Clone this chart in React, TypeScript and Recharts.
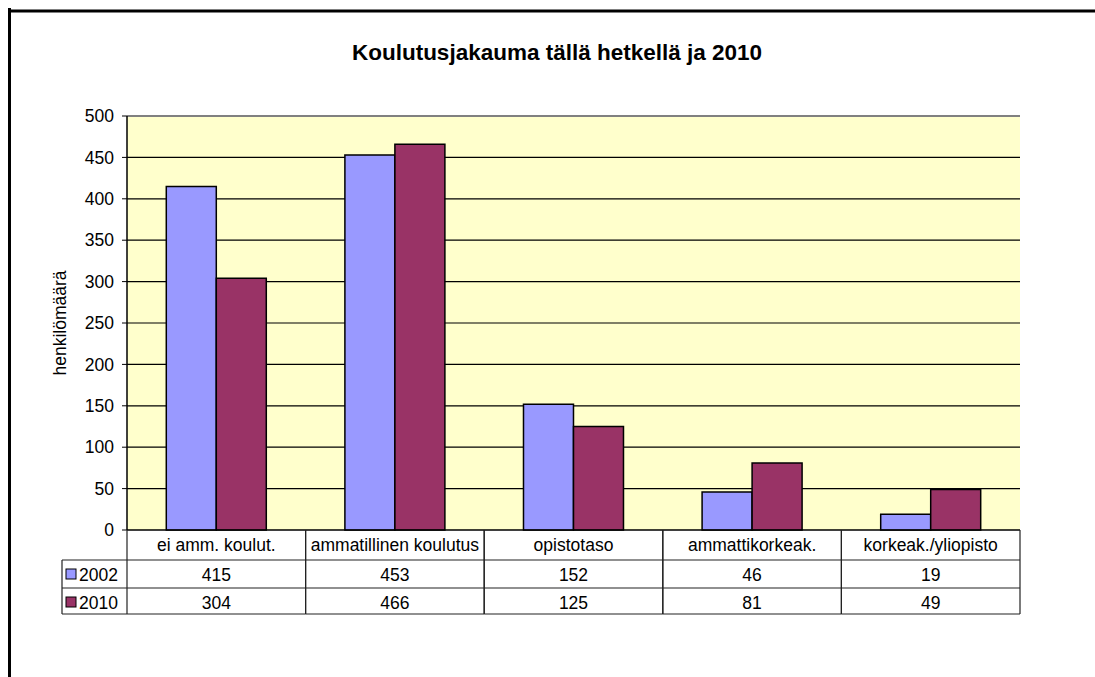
import React from 'react';
import { BarChart, Bar, XAxis, YAxis, CartesianGrid, ReferenceLine, Customized } from 'recharts';

const categories = ['ei amm. koulut.', 'ammatillinen koulutus', 'opistotaso', 'ammattikorkeak.', 'korkeak./yliopisto'];
const values2002 = [415, 453, 152, 46, 19];
const values2010 = [304, 466, 125, 81, 49];
const yTicks = [0, 50, 100, 150, 200, 250, 300, 350, 400, 450, 500];

const seriesNames = ['2002', '2010'];
const seriesColors = ['#9999FF', '#993366'];

const W = 1095;
const H = 677;
const PLOT_LEFT = 127;
const PLOT_RIGHT = 1020;
const PLOT_TOP = 116;
const PLOT_BOTTOM = 530;
const BAND = (PLOT_RIGHT - PLOT_LEFT) / categories.length;
const ROW1 = 560;
const ROW2 = 588;
const ROW3 = 614;
const LEGEND_LEFT = 62;
const FONT = 'Liberation Sans, Arial, sans-serif';
const LINE = '#222';
const FS = 17.5;

const chartData = categories.map((name, i) => ({
  name,
  v2002: values2002[i],
  v2010: values2010[i],
}));

// draws one column of the data table under the plot (and the legend column for the first one)
const TableTick = (props: any) => {
  const { x, y, payload } = props;
  const i = payload.index;
  const left = x - BAND / 2;
  const right = x + BAND / 2;
  const rows = [values2002[i], values2010[i]];
  return (
    <g fontFamily={FONT} fontSize={FS} fill="#000">
      <line x1={left} y1={y} x2={left} y2={ROW3} stroke={LINE} strokeWidth={1.2} />
      <line x1={right} y1={y} x2={right} y2={ROW3} stroke={LINE} strokeWidth={1.2} />
      <line x1={left} y1={ROW1} x2={right} y2={ROW1} stroke={LINE} strokeWidth={1.2} />
      <line x1={left} y1={ROW2} x2={right} y2={ROW2} stroke={LINE} strokeWidth={1.2} />
      <line x1={left} y1={ROW3} x2={right} y2={ROW3} stroke={LINE} strokeWidth={1.2} />
      <text x={x} y={y + 21} textAnchor="middle">{payload.value}</text>
      {rows.map((v, r) => (
        <text key={r} x={x} y={(r === 0 ? ROW1 : ROW2) + 21} textAnchor="middle">{v}</text>
      ))}
      {i === 0 && (
        <g>
          <line x1={LEGEND_LEFT} y1={ROW1} x2={left} y2={ROW1} stroke={LINE} strokeWidth={1.2} />
          <line x1={LEGEND_LEFT} y1={ROW2} x2={left} y2={ROW2} stroke={LINE} strokeWidth={1.2} />
          <line x1={LEGEND_LEFT} y1={ROW3} x2={left} y2={ROW3} stroke={LINE} strokeWidth={1.2} />
          <line x1={LEGEND_LEFT} y1={ROW1} x2={LEGEND_LEFT} y2={ROW3} stroke={LINE} strokeWidth={1.2} />
          {seriesNames.map((s, r) => {
            const top = r === 0 ? ROW1 : ROW2;
            return (
              <g key={s}>
                <rect x={LEGEND_LEFT + 4} y={top + 9} width={10} height={10} fill={seriesColors[r]} stroke="#000" strokeWidth={1} />
                <text x={LEGEND_LEFT + 17} y={top + 21}>{s}</text>
              </g>
            );
          })}
        </g>
      )}
    </g>
  );
};

const Frame = () => (
  <g>
    <line x1={9.5} y1={H + 5} x2={9.5} y2={9.5} stroke="#000" strokeWidth={3} strokeLinecap="square" />
    <line x1={9.5} y1={11} x2={W + 20} y2={11} stroke="#000" strokeWidth={3} />
    <text x={557} y={60} textAnchor="middle" fontFamily={FONT} fontSize={22.5} fontWeight="bold" fill="#000">
      Koulutusjakauma tällä hetkellä ja 2010
    </text>
  </g>
);

export default function App() {
  return (
    <div style={{ position: 'fixed', left: 0, top: 0, width: W, height: H, overflow: 'hidden', background: '#fff' }}>
      <BarChart
        width={W}
        height={H}
        data={chartData}
        margin={{ top: PLOT_TOP, right: W - PLOT_RIGHT, bottom: 0, left: 27 }}
        barCategoryGap="22%"
        barGap={0}
        style={{ display: 'block' }}
      >
        <CartesianGrid vertical={false} stroke="#000" strokeWidth={1.2} fill="#FFFFCC" />
        <XAxis
          dataKey="name"
          height={H - PLOT_BOTTOM}
          axisLine={{ stroke: '#000', strokeWidth: 1.2 }}
          tickLine={false}
          tickSize={0}
          tickMargin={0}
          interval={0}
          tick={<TableTick />}
        />
        <YAxis
          domain={[0, 500]}
          ticks={yTicks}
          width={PLOT_LEFT - 27}
          axisLine={{ stroke: '#000', strokeWidth: 1.5 }}
          tickLine={{ stroke: '#000' }}
          tickSize={5}
          tickMargin={8}
          tick={{ fontSize: FS, fill: '#000', fontFamily: FONT }}
          label={{
            value: 'henkilömäärä',
            angle: -90,
            position: 'insideLeft',
            offset: 33,
            style: { textAnchor: 'middle', fontSize: 17.5, fill: '#000', fontFamily: FONT },
          }}
        />
        <YAxis
          yAxisId="right"
          orientation="right"
          width={0}
          tick={false}
          tickLine={false}
          axisLine={{ stroke: '#808080', strokeWidth: 2 }}
        />
        <ReferenceLine y={500} stroke="#808080" strokeWidth={2} />
        <Bar dataKey="v2002" name="2002" fill={seriesColors[0]} stroke="#000" strokeWidth={1.5} isAnimationActive={false} />
        <Bar dataKey="v2010" name="2010" fill={seriesColors[1]} stroke="#000" strokeWidth={1.5} isAnimationActive={false} />
        <Customized component={<Frame />} />
      </BarChart>
    </div>
  );
}
